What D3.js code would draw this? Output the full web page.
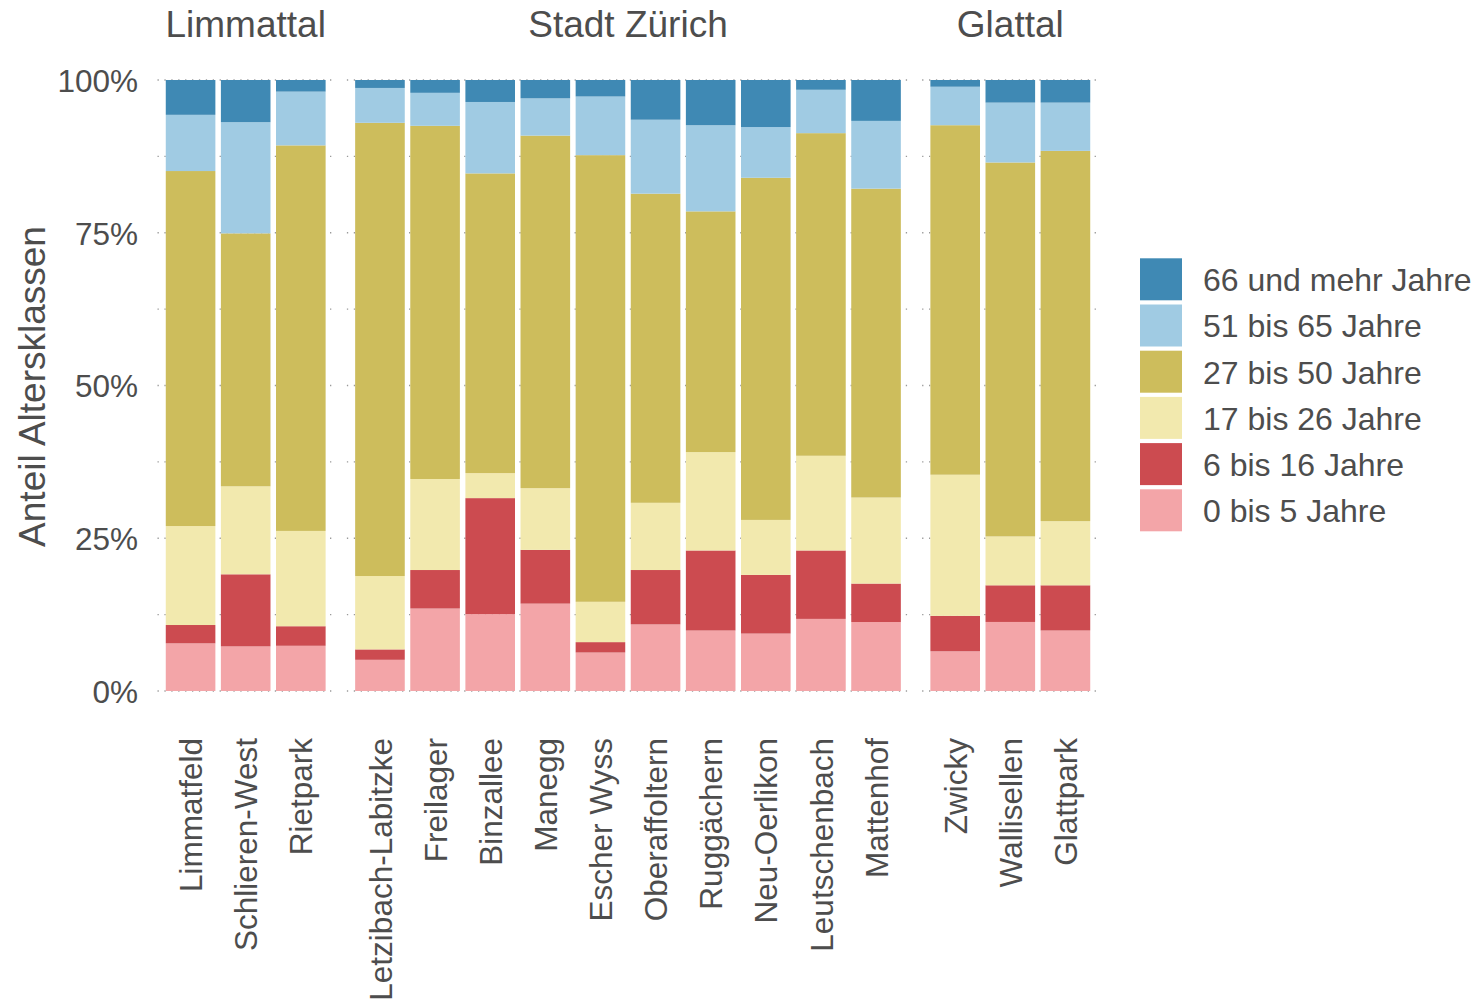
<!DOCTYPE html>
<html>
<head>
<meta charset="utf-8">
<script src="https://cdn.jsdelivr.net/npm/d3@7"></script>
<style>
  body { margin: 0; background: #fff; }
  text { font-family: "Liberation Sans", Arial, sans-serif; fill: #4d4d4d; }
</style>
</head>
<body>
<svg id="chart" width="1476" height="1008"></svg>
<script>
// regions (facets) and the areas in each of them
var regions = ["Limmattal", "Stadt Zürich", "Glattal"];
var limmattalAreas = ["Limmatfeld", "Schlieren-West", "Rietpark"];
var zuerichAreas = ["Letzibach-Labitzke", "Freilager", "Binzallee", "Manegg", "Escher Wyss",
  "Oberaffoltern", "Ruggächern", "Neu-Oerlikon", "Leutschenbach", "Mattenhof"];
var glattalAreas = ["Zwicky", "Wallisellen", "Glattpark"];

// age classes, bottom to top of the stack
var ageClasses = ["0 bis 5 Jahre", "6 bis 16 Jahre", "17 bis 26 Jahre",
  "27 bis 50 Jahre", "51 bis 65 Jahre", "66 und mehr Jahre"];
var ageColors = ["#f3a5a8", "#cc4b50", "#f2e9ae", "#cdbd5c", "#a0cbe3", "#3f89b4"];

// shares in %, same order as the areas above (Limmattal, Stadt Zürich, Glattal)
var age0to5   = [7.8, 7.3, 7.4,  5.1, 13.5, 12.6, 14.3, 6.3, 10.9, 9.9, 9.4, 11.8, 11.3,  6.5, 11.3, 9.9];
var age6to16  = [3.0, 11.8, 3.2,  1.7, 6.3, 19.0, 8.8, 1.7, 8.9, 13.1, 9.6, 11.2, 6.3,  5.8, 6.0, 7.4];
var age17to26 = [16.2, 14.4, 15.6,  12.0, 14.9, 4.1, 10.1, 6.6, 11.0, 16.1, 9.0, 15.5, 14.1,  23.1, 8.0, 10.5];
var age27to50 = [58.1, 41.4, 63.1,  74.1, 57.8, 49.1, 57.7, 73.1, 50.6, 39.4, 56.0, 52.8, 50.6,  57.2, 61.2, 60.6];
var age51to65 = [9.2, 18.2, 8.8,  5.7, 5.4, 11.7, 6.1, 9.6, 12.1, 14.1, 8.3, 7.1, 11.1,  6.3, 9.8, 7.9];
var age66plus = [5.7, 6.9, 1.9,  1.3, 2.1, 3.6, 3.0, 2.7, 6.5, 7.4, 7.7, 1.6, 6.7,  1.1, 3.7, 3.7];

var yTicks = [0, 0.25, 0.5, 0.75, 1];

var svg = d3.select("#chart");

var panelAreas = [limmattalAreas, zuerichAreas, glattalAreas];
var series = [age0to5, age6to16, age17to26, age27to50, age51to65, age66plus];

// one row per area
var rows = [];
var k = 0;
panelAreas.forEach(function(list, p) {
  list.forEach(function(name) {
    var row = { name: name, region: regions[p] };
    ageClasses.forEach(function(c, j) { row[c] = series[j][k]; });
    rows.push(row);
    k++;
  });
});

var stacked = d3.stack().keys(ageClasses).offset(d3.stackOffsetExpand)(rows);

var plotLeft = 157.5, plotRight = 1098.5, panelGap = 13;
var plotTop = 80, plotBottom = 691;

var units = d3.sum(panelAreas, function(a) { return a.length + 0.2; });
var step = (plotRight - plotLeft - panelGap * (panelAreas.length - 1)) / units;

var y = d3.scaleLinear().domain([0, 1]).range([plotBottom, plotTop]);
var color = d3.scaleOrdinal().domain(ageClasses).range(ageColors);

var fontTick = 31.5;

var x0 = plotLeft;
panelAreas.forEach(function(list, p) {
  var w = (list.length + 0.2) * step;
  var x = d3.scaleBand().domain(list).range([x0, x0 + w]).paddingInner(0.1).paddingOuter(0.15);

  var g = svg.append("g");

  // dotted grid, major and minor
  g.selectAll("line.grid")
    .data(d3.range(0, 1.0001, 0.125))
    .enter().append("line")
    .attr("x1", x0).attr("x2", x0 + w)
    .attr("y1", function(d) { return y(d); })
    .attr("y2", function(d) { return y(d); })
    .attr("stroke", "#9a9a9a")
    .attr("stroke-width", 1.3)
    .attr("stroke-dasharray", "1.3 5.6");

  // stacked bars
  stacked.forEach(function(layer) {
    g.selectAll(null)
      .data(layer.filter(function(d) { return d.data.region === regions[p]; }))
      .enter().append("rect")
      .attr("x", function(d) { return x(d.data.name); })
      .attr("width", x.bandwidth())
      .attr("y", function(d) { return y(d[1]); })
      .attr("height", function(d) { return y(d[0]) - y(d[1]); })
      .attr("fill", color(layer.key));
  });

  // facet title
  svg.append("text")
    .attr("x", x0 + w / 2)
    .attr("y", 37)
    .attr("text-anchor", "middle")
    .style("font-size", "37px")
    .text(regions[p]);

  // x axis labels
  var xAxis = svg.append("g")
    .attr("transform", "translate(0," + plotBottom + ")")
    .call(d3.axisBottom(x).tickSize(0));
  xAxis.select(".domain").remove();
  xAxis.selectAll("text")
    .attr("transform", "rotate(-90)")
    .attr("x", -47)
    .attr("y", 0)
    .attr("dy", "0.37em")
    .attr("text-anchor", "end")
    .attr("fill", "#4d4d4d")
    .style("font-family", "'Liberation Sans', Arial, sans-serif")
    .style("font-size", fontTick + "px");

  x0 += w + panelGap;
});

// y axis
var yAxis = svg.append("g")
  .attr("transform", "translate(" + plotLeft + ",0)")
  .call(d3.axisLeft(y).tickValues(yTicks).tickFormat(d3.format(".0%")).tickSize(0).tickPadding(19.5));
yAxis.select(".domain").remove();
yAxis.selectAll("text")
  .attr("fill", "#4d4d4d")
  .attr("dy", "0.36em")
  .style("font-family", "'Liberation Sans', Arial, sans-serif")
  .style("font-size", fontTick + "px");

svg.append("text")
  .attr("transform", "translate(45," + ((plotTop + plotBottom) / 2 + 1) + ") rotate(-90)")
  .attr("text-anchor", "middle")
  .style("font-size", "37px")
  .text("Anteil Altersklassen");

// legend, top entry is the oldest class
var legendItems = ageClasses.slice().reverse();
var legend = svg.append("g").attr("transform", "translate(1140,258.3)");
var item = legend.selectAll("g")
  .data(legendItems)
  .enter().append("g")
  .attr("transform", function(d, i) { return "translate(0," + (i * 46.2) + ")"; });
item.append("rect")
  .attr("width", 42).attr("height", 42)
  .attr("fill", function(d) { return color(d); });
item.append("text")
  .attr("x", 63)
  .attr("y", 21)
  .attr("dy", "0.37em")
  .style("font-size", "32px")
  .text(function(d) { return d; });
</script>
</body>
</html>
